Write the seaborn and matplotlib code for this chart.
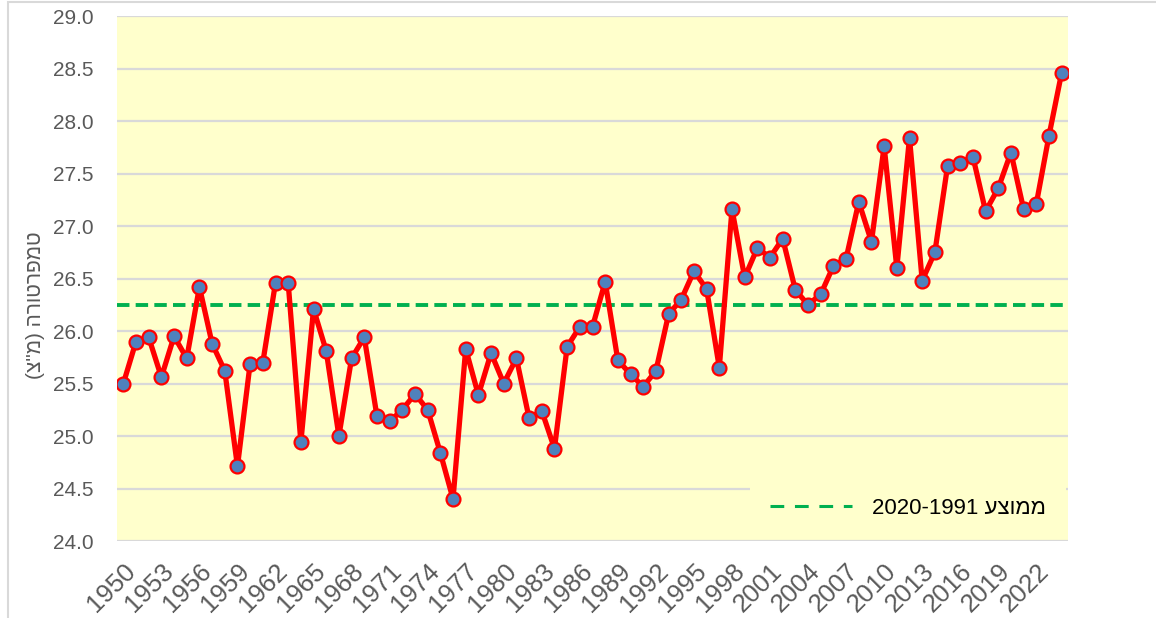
import numpy as np
import matplotlib.pyplot as plt
import seaborn as sns
from matplotlib.patches import Rectangle
from matplotlib.lines import Line2D

years = list(range(1950, 2025))
temps = [25.50, 25.90, 25.94, 25.56, 25.95, 25.74, 26.42, 25.88, 25.62, 24.71,
         25.69, 25.70, 26.46, 26.46, 24.94, 26.21, 25.81, 25.00, 25.74, 25.94,
         25.19, 25.14, 25.25, 25.40, 25.25, 24.84, 24.40, 25.83, 25.39, 25.79,
         25.50, 25.74, 25.17, 25.24, 24.88, 25.85, 26.04, 26.04, 26.47, 25.72,
         25.59, 25.47, 25.62, 26.16, 26.30, 26.57, 26.40, 25.65, 27.16, 26.51,
         26.79, 26.70, 26.88, 26.39, 26.25, 26.35, 26.62, 26.69, 27.23, 26.85,
         27.76, 26.60, 27.84, 26.48, 26.75, 27.57, 27.60, 27.66, 27.14, 27.36,
         27.70, 27.16, 27.21, 27.86, 28.46]
mean_1991_2020 = 26.25
tick_years = years[::3]

# hebrew strings written in visual order (matplotlib has no bidi)
ylabel_text = '(צ"מ) הרוטרפמט'
legend_text = '2020-1991 עצוממ'

sns.set_style("white")
plt.rcParams['font.family'] = ['Liberation Sans', 'DejaVu Sans']

fig = plt.figure(figsize=(11.56, 6.18), dpi=100)
ax = fig.add_axes([117/1156, 1 - 541/618, (1068-117)/1156, (541-16)/618])
ax.set_facecolor('#FFFFCC')

ax.axhline(mean_1991_2020, color='#00B050', lw=2.8, ls=(0, (3.2, 1.6)), zorder=2)
sns.lineplot(x=years, y=temps, ax=ax, color='red', lw=3.8, marker='o',
             markersize=10, markerfacecolor='#4F81BD', markeredgecolor='red',
             markeredgewidth=1.6, zorder=3)

ax.set_xlim(1949.5, 2024.5)
ax.set_ylim(24, 29)
ax.set_yticks(np.arange(24, 29.01, 0.5))
ax.set_yticklabels([f'{v:.1f}' for v in np.arange(24, 29.01, 0.5)])
ax.set_xticks(tick_years)
ax.set_xticklabels([str(y) for y in tick_years], rotation=45, ha='right',
                   rotation_mode='anchor')
ax.tick_params(axis='both', length=0, colors='#595959')
ax.tick_params(axis='x', pad=13, labelsize=18.5)
ax.tick_params(axis='y', pad=17, labelsize=15)
ax.yaxis.grid(True, color='#D9D9D9', lw=1.6)
ax.set_axisbelow(True)
for s in ax.spines.values():
    s.set_visible(False)

ax.set_ylabel(ylabel_text, fontsize=15, color='#595959')
ax.yaxis.set_label_coords(-0.076, 0.45)

handle = Line2D([], [], color='#00B050', lw=2.2, ls=(0, (4.5, 3.5)))
leg = ax.legend([handle], [legend_text], loc='lower right',
                bbox_to_anchor=(1.0, 0.0), borderaxespad=0.1, frameon=True,
                fontsize=16, handlelength=3.7, handletextpad=0.9,
                borderpad=0.9, fancybox=False)
leg.get_frame().set_facecolor('#FFFFCC')
leg.get_frame().set_edgecolor('none')
leg.get_frame().set_alpha(1)
for t in leg.get_texts():
    t.set_color('black')

fig.patches.append(Rectangle((8/1156, -0.1), 1.2, 1.1 - 2/618, fill=False,
                             edgecolor='#D9D9D9', lw=1.5,
                             transform=fig.transFigure, figure=fig))

fig.savefig('out.png', dpi=100)
